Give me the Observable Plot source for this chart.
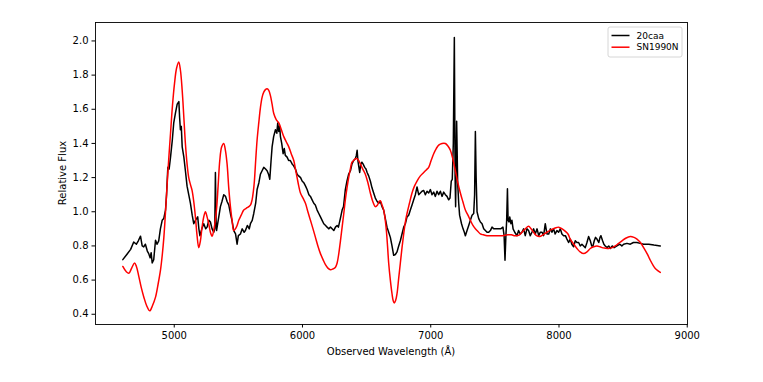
<!DOCTYPE html>
<html>
<head>
<meta charset="utf-8">
<script src="https://cdn.jsdelivr.net/npm/d3@7"></script>
<script src="https://cdn.jsdelivr.net/npm/@observablehq/plot@0.6"></script>
<style>
  html, body { margin: 0; padding: 0; background: #fff; }
  #chart { width: 763px; height: 382px; }
</style>
</head>
<body>
<div id="chart"></div>
<script>
// 20caa spectrum
const caaWave = [4599,4630,4660,4684,4705,4720,4737,4750,4762,4775,4790,4801,4812,4820,4828,4840,4854,4866,4879,4892,4906,4918,4932,4940,4950,4960,4971,4985,4996,5010,5023,5036,5042,5048,5055,5062,5075,5087,5100,5113,5126,5140,5152,5165,5183,5192,5200,5215,5230,5245,5256,5270,5282,5295,5308,5316,5321,5326,5330,5345,5360,5372,5386,5400,5412,5425,5438,5450,5464,5478,5490,5500,5516,5530,5545,5555,5570,5585,5594,5608,5620,5635,5646,5660,5672,5685,5698,5712,5724,5735,5745,5755,5763,5775,5789,5800,5807,5815,5822,5828,5838,5849,5858,5866,5880,5892,5905,5919,5930,5945,5958,5970,5985,5997,6010,6024,6036,6050,6062,6075,6088,6100,6114,6127,6140,6153,6166,6180,6192,6205,6218,6231,6244,6257,6270,6280,6295,6309,6320,6334,6347,6360,6374,6386,6399,6412,6420,6426,6432,6440,6446,6455,6463,6472,6485,6495,6504,6516,6529,6542,6555,6568,6582,6595,6607,6620,6633,6646,6659,6672,6685,6698,6711,6724,6737,6750,6763,6776,6789,6802,6815,6828,6841,6854,6867,6880,6893,6906,6919,6932,6945,6958,6971,6984,6997,7010,7023,7036,7049,7062,7075,7088,7101,7114,7127,7140,7150,7160,7168,7176,7184,7190,7194,7202,7210,7218,7225,7240,7252,7262,7270,7283,7296,7309,7322,7335,7342,7348,7354,7361,7374,7387,7400,7413,7426,7439,7452,7465,7478,7491,7504,7517,7530,7545,7563,7572,7579,7586,7592,7598,7603,7610,7616,7625,7633,7642,7655,7672,7685,7698,7711,7724,7737,7750,7763,7776,7789,7802,7815,7829,7842,7854,7868,7880,7893,7906,7920,7933,7945,7958,7970,7984,7997,8010,8023,8036,8050,8062,8075,8088,8100,8114,8127,8140,8153,8166,8179,8192,8205,8218,8231,8244,8255,8265,8275,8285,8296,8310,8320,8327,8340,8350,8361,8375,8388,8400,8415,8430,8452,8475,8490,8504,8530,8556,8580,8608,8634,8660,8700,8740,8790];
const caaFlux = [0.72,0.75,0.78,0.823,0.81,0.83,0.857,0.80,0.794,0.81,0.77,0.755,0.73,0.76,0.70,0.72,0.833,0.81,0.83,0.90,0.95,0.96,1.01,1.10,1.26,1.25,1.32,1.42,1.52,1.58,1.63,1.645,1.55,1.48,1.50,1.38,1.32,1.24,1.15,1.10,1.05,0.98,0.93,0.95,0.97,0.90,0.86,0.90,0.93,0.90,0.91,0.95,0.94,0.90,0.88,0.90,1.23,0.95,0.89,0.96,1.03,1.06,1.10,1.09,1.06,1.04,0.99,0.95,0.89,0.87,0.81,0.86,0.87,0.90,0.88,0.89,0.92,0.90,0.93,0.95,0.99,1.05,1.13,1.17,1.22,1.24,1.26,1.25,1.24,1.22,1.19,1.30,1.38,1.44,1.48,1.46,1.52,1.47,1.50,1.44,1.40,1.34,1.37,1.33,1.32,1.30,1.30,1.28,1.27,1.25,1.22,1.21,1.20,1.18,1.17,1.15,1.13,1.10,1.09,1.07,1.05,1.04,1.01,0.99,0.97,0.95,0.93,0.92,0.91,0.90,0.91,0.90,0.89,0.91,0.92,0.91,0.96,1.01,1.03,1.13,1.18,1.22,1.24,1.28,1.30,1.31,1.33,1.36,1.30,1.26,1.23,1.28,1.29,1.28,1.26,1.25,1.23,1.21,1.18,1.14,1.11,1.08,1.06,1.05,1.06,1.03,1.01,0.96,0.91,0.88,0.85,0.80,0.745,0.75,0.765,0.80,0.83,0.87,0.91,0.93,0.97,0.98,1.01,1.04,1.07,1.10,1.145,1.10,1.11,1.12,1.125,1.10,1.12,1.11,1.13,1.10,1.115,1.09,1.12,1.10,1.12,1.09,1.115,1.10,1.09,1.07,1.08,1.18,1.19,1.40,2.02,1.20,1.03,1.53,1.17,1.05,0.98,0.93,0.90,0.88,0.86,0.89,0.92,0.95,0.98,0.99,1.10,1.47,1.20,1.00,0.96,0.94,0.93,0.90,0.89,0.88,0.88,0.89,0.91,0.90,0.90,0.90,0.90,0.90,0.91,0.86,0.716,0.86,0.95,1.135,0.95,0.94,0.97,0.93,0.95,0.90,0.88,0.86,0.89,0.87,0.88,0.90,0.86,0.90,0.89,0.86,0.88,0.90,0.87,0.90,0.86,0.88,0.88,0.86,0.93,0.87,0.87,0.90,0.88,0.90,0.87,0.89,0.88,0.90,0.87,0.86,0.86,0.84,0.82,0.84,0.81,0.795,0.83,0.82,0.82,0.80,0.81,0.80,0.79,0.82,0.855,0.83,0.80,0.80,0.83,0.85,0.84,0.82,0.85,0.86,0.83,0.81,0.80,0.79,0.80,0.785,0.80,0.79,0.80,0.81,0.80,0.81,0.815,0.81,0.82,0.82,0.815,0.81,0.81,0.805,0.80];

// SN1990N template spectrum
const snWave = [4599,4625,4646,4668,4690,4705,4724,4745,4763,4785,4809,4830,4854,4875,4893,4907,4919,4932,4945,4958,4971,4986,5002,5018,5035,5048,5062,5075,5087,5100,5113,5126,5139,5152,5165,5178,5191,5204,5217,5230,5243,5256,5269,5282,5295,5310,5329,5342,5355,5370,5386,5399,5412,5425,5438,5451,5464,5477,5490,5503,5522,5542,5561,5581,5595,5607,5617,5625,5635,5646,5659,5672,5685,5698,5711,5724,5737,5750,5763,5776,5795,5815,5835,5854,5873,5893,5912,5932,5945,5958,5971,5984,6004,6023,6042,6062,6082,6101,6120,6140,6160,6179,6198,6218,6237,6257,6270,6283,6296,6309,6322,6334,6347,6360,6373,6386,6399,6412,6426,6438,6451,6470,6490,6510,6529,6548,6568,6585,6597,6607,6620,6633,6644,6654,6663,6672,6685,6698,6707,6716,6726,6737,6750,6763,6776,6789,6802,6815,6834,6854,6873,6893,6919,6945,6965,6984,7003,7023,7043,7062,7088,7114,7134,7153,7172,7192,7211,7231,7250,7270,7290,7309,7329,7348,7368,7387,7410,7439,7480,7520,7560,7600,7630,7650,7672,7692,7711,7737,7763,7782,7802,7825,7849,7875,7906,7940,7970,7997,8025,8050,8070,8088,8115,8140,8165,8192,8218,8244,8270,8296,8320,8335,8360,8387,8415,8439,8465,8491,8520,8556,8585,8608,8635,8660,8690,8712,8735,8751,8770,8790];
const snFlux = [0.68,0.65,0.64,0.67,0.70,0.68,0.62,0.55,0.50,0.45,0.42,0.45,0.50,0.58,0.66,0.75,0.85,1.00,1.165,1.32,1.46,1.62,1.75,1.84,1.877,1.83,1.71,1.55,1.40,1.28,1.20,1.16,1.125,1.06,0.97,0.86,0.79,0.83,0.91,0.97,1.00,0.97,0.93,0.88,0.857,0.90,1.01,1.15,1.30,1.38,1.40,1.36,1.28,1.14,1.03,0.95,0.89,0.90,0.92,0.95,0.98,1.01,1.02,1.03,1.04,1.07,1.12,1.18,1.30,1.42,1.52,1.61,1.67,1.70,1.715,1.72,1.71,1.68,1.63,1.575,1.54,1.52,1.48,1.44,1.41,1.38,1.34,1.30,1.25,1.20,1.15,1.11,1.08,1.05,1.00,0.95,0.90,0.85,0.80,0.755,0.72,0.69,0.67,0.66,0.665,0.675,0.70,0.755,0.83,0.91,0.99,1.07,1.14,1.20,1.25,1.29,1.30,1.31,1.31,1.30,1.28,1.25,1.22,1.17,1.11,1.06,1.03,1.04,1.06,1.065,1.04,1.01,0.96,0.89,0.80,0.70,0.60,0.52,0.48,0.466,0.48,0.52,0.61,0.70,0.79,0.87,0.94,0.99,1.05,1.11,1.15,1.18,1.21,1.23,1.245,1.26,1.30,1.34,1.37,1.39,1.40,1.40,1.385,1.36,1.31,1.24,1.17,1.11,1.06,1.01,0.98,0.95,0.92,0.90,0.885,0.87,0.865,0.86,0.86,0.86,0.86,0.865,0.865,0.86,0.86,0.865,0.88,0.90,0.915,0.90,0.88,0.86,0.855,0.865,0.88,0.895,0.905,0.91,0.90,0.885,0.87,0.84,0.81,0.785,0.765,0.755,0.765,0.785,0.795,0.80,0.795,0.79,0.787,0.785,0.79,0.80,0.815,0.83,0.845,0.855,0.85,0.84,0.82,0.79,0.75,0.716,0.685,0.668,0.655,0.645];

const seriesNames = ["20caa", "SN1990N"];
const seriesColors = ["black", "red"];
const xTicks = [5000, 6000, 7000, 8000, 9000];
const yTicks = [0.4, 0.6, 0.8, 1.0, 1.2, 1.4, 1.6, 1.8, 2.0];
const xLabel = "Observed Wavelength (Å)";
const yLabel = "Relative Flux";

const caa = caaWave.map((w, i) => ({w, f: caaFlux[i]}));
const sn = snWave.map((w, i) => ({w, f: snFlux[i]}));

const W = 763, H = 382;
const mL = 95, mR = 76, mT = 22, mB = 58;

const chart = Plot.plot({
  width: W,
  height: H,
  marginLeft: mL,
  marginRight: mR,
  marginTop: mT,
  marginBottom: mB,
  style: {fontFamily: "DejaVu Sans", fontSize: "10px", background: "#fff", color: "#000"},
  x: {domain: [4386, 9002], ticks: xTicks, tickFormat: d3.format("d"), label: null, tickSize: 3.5, tickPadding: 3.5},
  y: {domain: [0.340, 2.108], ticks: yTicks, tickFormat: d3.format(".1f"), label: null, tickSize: 3.5, tickPadding: 3.5},
  marks: [
    Plot.line(caa, {x: "w", y: "f", stroke: seriesColors[0], strokeWidth: 1.5, strokeLinejoin: "round"}),
    Plot.line(sn, {x: "w", y: "f", stroke: seriesColors[1], strokeWidth: 1.5, curve: "catmull-rom"}),
    Plot.frame({stroke: "#000", strokeWidth: 0.9})
  ]
});
document.getElementById("chart").appendChild(chart);

const svg = d3.select(chart);
// axis titles
svg.append("text")
  .attr("x", (mL + (W - mR)) / 2).attr("y", H - mB + 31)
  .attr("text-anchor", "middle")
  .attr("font-family", "DejaVu Sans").attr("font-size", 10)
  .attr("fill", "#000")
  .text(xLabel);
svg.append("text")
  .attr("transform", `translate(${mL - 29},${(mT + H - mB) / 2}) rotate(-90)`)
  .attr("text-anchor", "middle")
  .attr("font-family", "DejaVu Sans").attr("font-size", 10)
  .attr("fill", "#000")
  .text(yLabel);

// legend
const lx = W - mR - 79, ly = mT + 5;
const lg = svg.append("g").attr("text-anchor", "start");
lg.append("rect").attr("x", lx).attr("y", ly).attr("width", 74).attr("height", 30)
  .attr("rx", 2).attr("fill", "#fff").attr("stroke", "#ccc").attr("stroke-width", 0.8);
seriesNames.forEach((name, i) => {
  const yy = ly + 8.5 + i * 11.7;
  lg.append("line").attr("x1", lx + 3.5).attr("x2", lx + 21.5).attr("y1", yy).attr("y2", yy)
    .attr("stroke", seriesColors[i]).attr("stroke-width", 1.5);
  lg.append("text").attr("x", lx + 28.5).attr("y", yy).attr("dy", "0.35em")
    .attr("text-anchor", "start")
    .attr("font-family", "DejaVu Sans").attr("font-size", 9).attr("fill", "#000")
    .text(name);
});
</script>
</body>
</html>
